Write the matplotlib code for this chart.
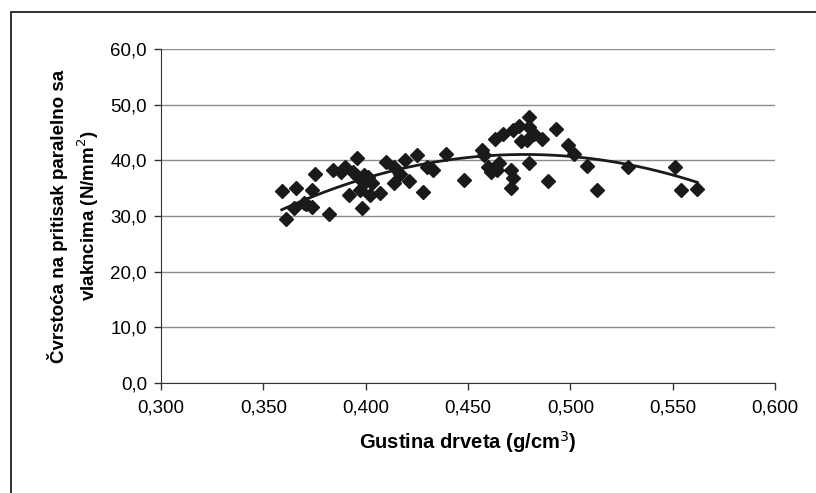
import numpy as np
import matplotlib.pyplot as plt
from matplotlib.patches import Rectangle
from matplotlib.ticker import FuncFormatter

plt.rcParams['font.family'] = ['Liberation Sans', 'DejaVu Sans']

# gustina drveta (g/cm3) i cvrstoca (N/mm2), ocitano sa grafika
gustina = [0.359, 0.361, 0.365, 0.366, 0.370, 0.371, 0.374, 0.375, 0.374, 0.382,
           0.384, 0.388, 0.390, 0.396, 0.394, 0.392, 0.396, 0.397, 0.398, 0.399,
           0.399, 0.401, 0.403, 0.402, 0.407, 0.410, 0.414, 0.419, 0.425, 0.417,
           0.414, 0.421, 0.428, 0.433, 0.430, 0.439, 0.448, 0.457, 0.458, 0.463,
           0.467, 0.472, 0.475, 0.480, 0.480, 0.476, 0.479, 0.482, 0.486, 0.493,
           0.460, 0.461, 0.464, 0.465, 0.471, 0.472, 0.471, 0.480, 0.489, 0.499,
           0.502, 0.508, 0.513, 0.528, 0.551, 0.554, 0.562]
cvrstoca = [34.5, 29.4, 31.5, 35.0, 32.4, 32.1, 31.7, 37.5, 34.6, 30.3,
            38.2, 37.9, 38.8, 40.5, 37.9, 33.8, 37.1, 34.6, 31.4, 37.3,
            35.9, 37.0, 35.9, 33.8, 34.1, 39.7, 38.8, 40.0, 40.9, 37.6,
            35.9, 36.3, 34.3, 38.2, 38.8, 41.1, 36.4, 41.8, 40.9, 43.9,
            44.7, 45.5, 46.2, 47.8, 46.0, 43.4, 43.7, 44.8, 43.9, 45.7,
            38.8, 37.9, 38.2, 39.6, 38.2, 36.8, 35.1, 39.5, 36.2, 42.7,
            41.2, 39.0, 34.6, 38.8, 38.8, 34.6, 34.9]

x_ticks = [0.300, 0.350, 0.400, 0.450, 0.500, 0.550, 0.600]
y_ticks = [0, 10, 20, 30, 40, 50, 60]

x = np.array(gustina)
y = np.array(cvrstoca)

fig = plt.figure(figsize=(8.16, 4.93), dpi=100)
ax = fig.add_axes([0.1973, 0.2231, 0.7525, 0.6775])

# okvir oko grafika
fig.patches.append(Rectangle((10.5 / 816, -0.1), 1.1, 1 - 12.5 / 493 + 0.1,
                             transform=fig.transFigure, fill=False,
                             edgecolor='#222222', linewidth=1.3))

ax.plot(x, y, linestyle='none', marker='D', markersize=7,
        color='#1a1a1a', zorder=3)

# polinomski trend (2. stepen)
koef = np.polyfit(x, y, 2)
xs = np.linspace(x.min(), x.max(), 200)
ax.plot(xs, np.polyval(koef, xs), color='#1a1a1a', linewidth=2, zorder=4)

ax.set_xlim(0.300, 0.600)
ax.set_ylim(0, 60)
ax.set_xticks(x_ticks)
ax.set_yticks(y_ticks)
ax.xaxis.set_major_formatter(FuncFormatter(lambda v, p: f'{v:.3f}'.replace('.', ',')))
ax.yaxis.set_major_formatter(FuncFormatter(lambda v, p: f'{v:.1f}'.replace('.', ',')))
ax.tick_params(labelsize=13.5, length=5, width=1, color='#333333', pad=5)
ax.tick_params(axis='x', pad=7)

ax.grid(axis='y', color='#8c8c8c', linewidth=1)
ax.set_axisbelow(True)
for s in ['top', 'right']:
    ax.spines[s].set_visible(False)
for s in ['left', 'bottom']:
    ax.spines[s].set_color('#333333')

ax.set_xlabel('Gustina drveta (g/cm$^3$)', fontsize=14.5, fontweight='bold', labelpad=9)
ax.set_ylabel('Čvrstoća na pritisak paralelno sa\nvlakncima (N/mm$^2$)',
              fontsize=13.5, fontweight='bold', labelpad=7, linespacing=1.35)

plt.savefig('out.png', dpi=100)
